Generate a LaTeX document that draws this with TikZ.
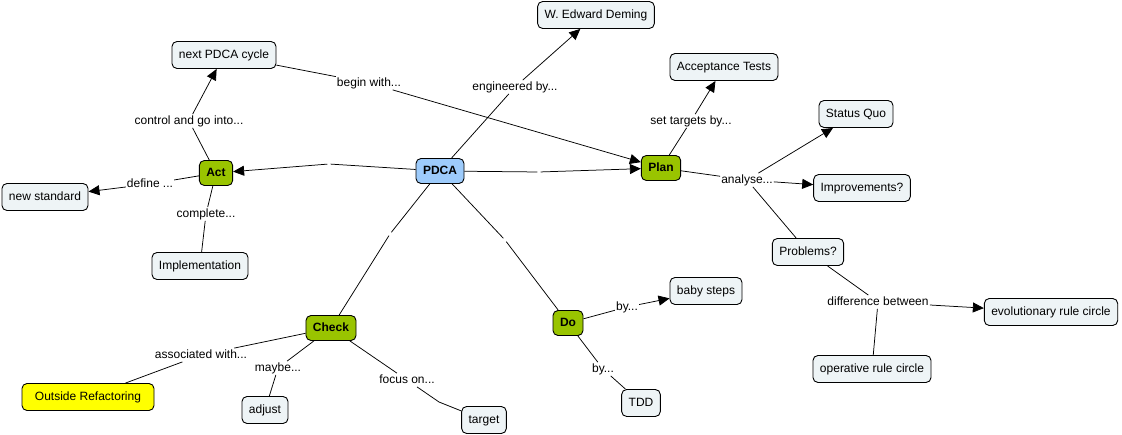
\documentclass[tikz,border=0pt]{standalone}
\usepackage{fontspec}
\setmainfont{Liberation Sans}
\usetikzlibrary{arrows.meta}
\definecolor{cfill}{HTML}{EEF4F6}
\definecolor{gfill}{HTML}{99C400}
\definecolor{bfill}{HTML}{9DCBFB}
\definecolor{yfill}{HTML}{FFFF00}
\begin{document}
\begin{tikzpicture}[x=1pt,y=-1pt,
 concept/.style={draw=black, fill=cfill, rounded corners=5pt, line width=0.9pt, minimum height=27pt, inner xsep=7pt, inner ysep=0pt, text height=8.8pt, text depth=2.6pt, font=\fontsize{12}{14}\selectfont},
 key/.style={concept, fill=gfill, minimum height=25pt, font=\fontsize{12}{14}\selectfont\bfseries},
 lbl/.style={fill=white, inner sep=1pt, text height=8.8pt, text depth=2.6pt, font=\fontsize{12}{14}\selectfont},
 gapn/.style={inner sep=0pt, minimum size=3pt},
 link/.style={draw=black, line width=0.75pt},
 arr/.style={link, -{Triangle[length=11pt,width=10pt]}},
]
\useasboundingbox (0,0) rectangle (1122,435);
% concepts
\node[concept] (deming) at (596,15) {W. Edward Deming};
\node[concept] (npc) at (224,55) {next PDCA cycle};
\node[concept] (acc) at (724,67) {Acceptance Tests};
\node[concept] (sq) at (856,114) {Status Quo};
\node[key] (act) at (216,173) {Act};
\node[key, fill=bfill] (pdca) at (440,171) {PDCA};
\node[key] (plan) at (661,168) {Plan};
\node[concept] (newstd) at (45,197) {new standard};
\node[concept] (impr) at (862,188) {Improvements?};
\node[concept] (prob) at (808,252) {Problems?};
\node[concept] (impl) at (200,266) {Implementation};
\node[concept] (baby) at (706,291) {baby steps};
\node[concept] (evo) at (1051,312) {evolutionary rule circle};
\node[key] (check) at (331,328) {Check};
\node[key] (do) at (568,323) {Do};
\node[concept] (oper) at (872,369) {operative rule circle};
\node[concept, fill=yfill, minimum width=132pt] (outside) at (88,397) {Outside Refactoring};
\node[concept] (adjust) at (265,410) {adjust};
\node[concept] (target) at (484,420) {target};
\node[concept] (tdd) at (641,403) {TDD};
% link labels
\node[lbl] (lbegin) at (369,83) {begin with...};
\node[lbl] (leng) at (515,87) {engineered by...};
\node[lbl] (lset) at (691,121) {set targets by...};
\node[lbl] (lan) at (747,180) {analyse...};
\node[lbl] (lctrl) at (189,121) {control and go into...};
\node[lbl] (ldef) at (150,184) {define ...};
\node[lbl] (lcomp) at (206,214) {complete...};
\node[lbl] (lassoc) at (201,355) {associated with...};
\node[lbl] (lmaybe) at (278,368) {maybe...};
\node[lbl] (lfocus) at (407,380) {focus on...};
\node[lbl] (lby1) at (627,307) {by...};
\node[lbl] (lby2) at (603,369) {by...};
\node[lbl] (ldiff) at (878,302) {difference between};
% empty link labels (gaps)
\node[gapn] (g1) at (329,164) {};
\node[gapn] (g2) at (539,172) {};
\node[gapn] (g3) at (390,234) {};
\node[gapn] (g4) at (505,240) {};
\coordinate (kf) at (439,402);
% connectors
\draw[link] (npc) -- (lbegin);
\draw[arr] (lbegin) -- (plan);
\draw[link] (pdca) -- (leng);
\draw[arr] (leng) -- (deming);
\draw[link] (plan) -- (lset);
\draw[arr] (lset) -- (acc);
\draw[link] (plan) -- (lan);
\draw[arr] (lan) -- (sq);
\draw[arr] (lan) -- (impr);
\draw[link] (lan) -- (prob);
\draw[link] (act) -- (lctrl);
\draw[arr] (lctrl) -- (npc);
\draw[link] (act) -- (ldef);
\draw[arr] (ldef) -- (newstd);
\draw[link] (act) -- (lcomp);
\draw[link] (lcomp) -- (impl);
\draw[link] (pdca) -- (g1);
\draw[arr] (g1) -- (act);
\draw[link] (pdca) -- (g2);
\draw[arr] (g2) -- (plan);
\draw[link] (pdca) -- (g3);
\draw[link] (g3) -- (check);
\draw[link] (pdca) -- (g4);
\draw[link] (g4) -- (do);
\draw[link] (check) -- (lassoc);
\draw[link] (lassoc) -- (outside);
\draw[link] (check) -- (lmaybe);
\draw[link] (lmaybe) -- (adjust);
\draw[link] (check) -- (lfocus);
\draw[link] (lfocus) -- (kf) -- (target);
\draw[link] (do) -- (lby1);
\draw[arr] (lby1) -- (baby);
\draw[link] (do) -- (lby2);
\draw[link] (lby2) -- (tdd);
\draw[link] (prob) -- (ldiff);
\draw[arr] (ldiff) -- (evo);
\draw[link] (ldiff) -- (oper);
\end{tikzpicture}
\end{document}
